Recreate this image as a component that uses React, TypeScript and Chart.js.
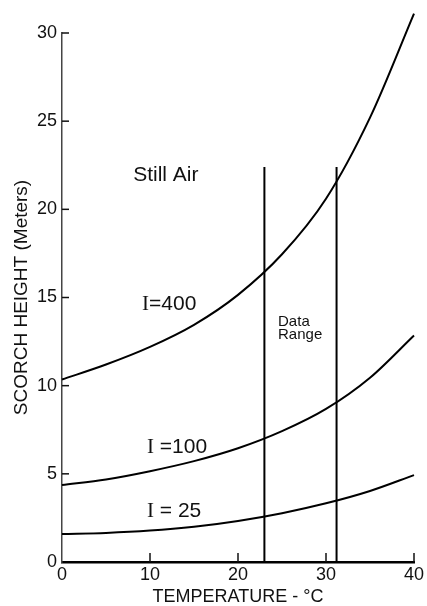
import React, { useEffect, useRef } from "react";
import { Chart, registerables } from "chart.js";

Chart.register(...registerables);

// Temperature (°C) at which curve heights were read
const temperatures = [0, 5, 10, 15, 20, 25, 30, 35, 40];
// Scorch height (m) for each fireline intensity
const heightI400 = [10.35, 11.2, 12.2, 13.45, 15.15, 17.45, 20.6, 25.2, 31.1];
const heightI100 = [4.37, 4.68, 5.15, 5.72, 6.45, 7.42, 8.68, 10.45, 12.85];
const heightI25 = [1.59, 1.65, 1.78, 2.0, 2.33, 2.77, 3.33, 4.03, 4.93];

// Data range boundaries (temperature) and their vertical extent (height)
const dataRangeTemps = [23, 31.2];
const dataRangeHeights = [0, 22.4];

// Tick values
const xTickValues = [0, 10, 20, 30, 40];
const yTickValues = [0, 5, 10, 15, 20, 25, 30];

// Text annotations (anchored in data units)
const annotationLabels = [
  { prefix: "", text: "Still Air", t: 11.8, h: 21.95, size: 21, align: "center" },
  { prefix: "I", text: "=400", t: 9.1, h: 14.63, size: 21, align: "left" },
  { prefix: "I", text: " =100", t: 9.66, h: 6.52, size: 21, align: "left" },
  { prefix: "I", text: " = 25", t: 9.66, h: 2.89, size: 21, align: "left" },
  { prefix: "", text: "Data", t: 24.55, h: 13.6, size: 15, align: "left" },
  { prefix: "", text: "Range", t: 24.55, h: 12.9, size: 15, align: "left" },
];

const SANS = "'Liberation Sans', Arial, sans-serif";
const SERIF = "'Liberation Serif', 'Times New Roman', serif";

const decorPlugin = {
  id: "decor",
  afterDatasetsDraw(chart: any) {
    const { ctx } = chart;
    const x = chart.scales.x;
    const y = chart.scales.y;
    ctx.save();
    // inward tick marks
    ctx.strokeStyle = "#111";
    ctx.lineWidth = 1.5;
    xTickValues.forEach((v) => {
      if (v === 0) return;
      const px = x.getPixelForValue(v);
      ctx.beginPath();
      ctx.moveTo(px, y.bottom);
      ctx.lineTo(px, y.bottom - 9);
      ctx.stroke();
    });
    yTickValues.forEach((v) => {
      if (v === 0) return;
      const py = y.getPixelForValue(v);
      ctx.beginPath();
      ctx.moveTo(x.left, py);
      ctx.lineTo(x.left + 7, py);
      ctx.stroke();
    });
    // annotation labels
    ctx.fillStyle = "#111";
    ctx.textBaseline = "middle";
    annotationLabels.forEach((l) => {
      const px = x.getPixelForValue(l.t);
      const py = y.getPixelForValue(l.h);
      ctx.font = `${l.size}px ${SERIF}`;
      const wPre = l.prefix ? ctx.measureText(l.prefix).width : 0;
      ctx.font = `${l.size}px ${SANS}`;
      const wTxt = ctx.measureText(l.text).width;
      let start = px;
      if (l.align === "center") start = px - (wPre + wTxt) / 2;
      ctx.textAlign = "left";
      if (l.prefix) {
        ctx.font = `${l.size}px ${SERIF}`;
        ctx.fillText(l.prefix, start, py);
      }
      ctx.font = `${l.size}px ${SANS}`;
      ctx.fillText(l.text, start + wPre, py);
    });
    ctx.restore();
  },
};

export default function App() {
  const canvasRef = useRef<HTMLCanvasElement | null>(null);

  useEffect(() => {
    if (!canvasRef.current) return;
    const curve = (data: number[]) =>
      temperatures.map((t, i) => ({ x: t, y: data[i] }));
    const curveStyle = {
      borderColor: "#000",
      borderWidth: 2,
      pointRadius: 0,
      cubicInterpolationMode: "monotone" as const,
      fill: false,
      clip: false as any,
    };
    const boundary = (t: number) => ({
      data: dataRangeHeights.map((h) => ({ x: t, y: h })),
      borderColor: "#000",
      borderWidth: 2,
      pointRadius: 0,
      fill: false,
    });

    const chart = new Chart(canvasRef.current, {
      type: "line",
      data: {
        datasets: [
          { ...curveStyle, label: "I=400", data: curve(heightI400) },
          { ...curveStyle, label: "I=100", data: curve(heightI100) },
          { ...curveStyle, label: "I=25", data: curve(heightI25) },
          { ...boundary(dataRangeTemps[0]), label: "range-low" },
          { ...boundary(dataRangeTemps[1]), label: "range-high" },
        ] as any,
      },
      options: {
        animation: false,
        responsive: true,
        maintainAspectRatio: false,
        layout: { padding: { top: 33, right: 13, left: 0, bottom: 0 } },
        plugins: {
          legend: { display: false },
          tooltip: { enabled: false },
        },
        scales: {
          x: {
            type: "linear",
            min: 0,
            max: 40,
            afterBuildTicks: (s: any) => {
              s.ticks = xTickValues.map((v) => ({ value: v }));
            },
            afterFit: (s: any) => {
              s.height = 44;
            },
            grid: { display: false, drawTicks: false },
            border: { display: true, color: "#000", width: 2.5 },
            ticks: {
              padding: 2,
              color: "#111",
              font: { family: SANS, size: 18 },
              maxRotation: 0,
            },
            title: {
              display: true,
              text: "TEMPERATURE - °C",
              color: "#111",
              font: { family: SANS, size: 18, lineHeight: 1 },
              padding: { top: 0, bottom: 0 },
            },
          },
          y: {
            type: "linear",
            min: 0,
            max: 30,
            afterBuildTicks: (s: any) => {
              s.ticks = yTickValues.map((v) => ({ value: v }));
            },
            afterFit: (s: any) => {
              s.width = 62;
            },
            grid: { display: false, drawTicks: false },
            border: { display: true, color: "#444", width: 1.5 },
            ticks: {
              padding: 5,
              color: "#111",
              font: { family: SANS, size: 18 },
            },
            title: {
              display: true,
              text: "SCORCH HEIGHT (Meters)",
              color: "#111",
              font: { family: SANS, size: 19, lineHeight: 1.2 },
              padding: { top: 10, bottom: 0 },
            },
          },
        },
      },
      plugins: [decorPlugin],
    });
    return () => chart.destroy();
  }, []);

  return (
    <div
      style={{
        position: "fixed",
        left: 0,
        top: 0,
        width: 427,
        height: 606,
        background: "#fff",
      }}
    >
      <canvas ref={canvasRef} />
    </div>
  );
}
